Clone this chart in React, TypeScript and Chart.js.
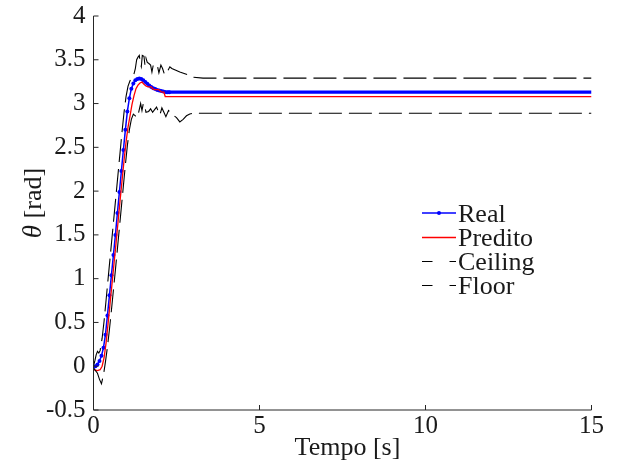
import React, { useEffect, useRef } from "react";
import { Chart, registerables } from "chart.js";

Chart.register(...registerables);

// ---------------- data ----------------
const realTime = [0, 0.06, 0.12, 0.18, 0.24, 0.30, 0.36, 0.42, 0.48, 0.54, 0.60, 0.66, 0.72, 0.78, 0.84, 0.90, 0.96, 1.02, 1.08, 1.14, 1.20, 1.26, 1.32, 1.38, 1.44, 1.50, 1.56, 1.62, 1.68, 1.74, 1.80, 1.86, 1.92, 1.98, 2.04, 2.10, 2.16, 2.22, 2.28, 3, 5, 7.5, 10, 12.5, 15];
const realTheta = [-0.01, 0.0, 0.02, 0.06, 0.12, 0.21, 0.36, 0.58, 0.81, 1.04, 1.27, 1.50, 1.75, 1.99, 2.23, 2.47, 2.70, 2.91, 3.06, 3.17, 3.23, 3.265, 3.28, 3.285, 3.28, 3.265, 3.245, 3.225, 3.205, 3.19, 3.175, 3.165, 3.155, 3.148, 3.142, 3.137, 3.133, 3.13, 3.13, 3.13, 3.13, 3.13, 3.13, 3.13, 3.13];

const predTime = [0, 0.12, 0.20, 0.26, 0.32, 0.38, 0.44, 0.50, 0.56, 0.62, 0.68, 0.74, 0.80, 0.86, 0.92, 0.98, 1.04, 1.10, 1.16, 1.22, 1.28, 1.34, 1.40, 1.46, 1.52, 1.58, 1.64, 1.74, 1.78, 1.84, 1.96, 2.02, 2.06, 2.12, 2.16, 15];
const predTheta = [-0.04, -0.05, -0.04, 0.0, 0.10, 0.27, 0.49, 0.72, 0.95, 1.18, 1.41, 1.65, 1.89, 2.12, 2.35, 2.56, 2.73, 2.86, 2.99, 3.09, 3.17, 3.21, 3.235, 3.245, 3.22, 3.20, 3.19, 3.19, 3.17, 3.16, 3.16, 3.14, 3.13, 3.13, 3.08, 3.08];

const ceilTime = [0, 0.04, 0.08, 0.12, 0.16, 0.20, 0.26, 0.32, 0.38, 0.44, 0.50, 0.56, 0.62, 0.68, 0.74, 0.80, 0.86, 0.92, 0.98, 1.04, 1.10, 1.16, 1.22, 1.26, 1.30, 1.34, 1.38, 1.41, 1.44, 1.47, 1.52, 1.55, 1.58, 1.62, 1.66, 1.72, 1.76, 1.80, 1.86, 1.92, 1.97, 2.03, 2.08, 2.14, 2.22, 2.30, 2.36, 2.60, 2.90, 3.00, 3.30, 15];
const ceilTheta = [0.0, 0.06, 0.13, 0.17, 0.15, 0.18, 0.32, 0.52, 0.76, 1.00, 1.24, 1.48, 1.72, 1.96, 2.20, 2.44, 2.68, 2.90, 3.08, 3.20, 3.26, 3.30, 3.34, 3.40, 3.50, 3.53, 3.55, 3.46, 3.42, 3.55, 3.54, 3.44, 3.52, 3.47, 3.46, 3.44, 3.36, 3.44, 3.43, 3.44, 3.35, 3.44, 3.40, 3.33, 3.36, 3.42, 3.40, 3.36, 3.32, 3.30, 3.29, 3.29];

const floorTime = [0, 0.06, 0.12, 0.18, 0.24, 0.30, 0.36, 0.42, 0.48, 0.54, 0.60, 0.66, 0.72, 0.78, 0.84, 0.90, 0.96, 1.02, 1.08, 1.14, 1.20, 1.26, 1.32, 1.36, 1.42, 1.46, 1.50, 1.54, 1.58, 1.66, 1.72, 1.78, 1.84, 1.90, 1.96, 2.00, 2.06, 2.12, 2.18, 2.26, 2.36, 2.50, 2.60, 2.70, 2.80, 2.90, 3.00, 15];
const floorTheta = [-0.02, -0.05, -0.08, -0.15, -0.20, -0.10, 0.05, 0.22, 0.42, 0.64, 0.87, 1.10, 1.34, 1.58, 1.82, 2.06, 2.30, 2.52, 2.70, 2.82, 2.88, 2.86, 2.84, 2.90, 3.00, 2.92, 3.00, 2.98, 2.90, 2.91, 2.94, 2.90, 2.93, 2.96, 2.90, 2.87, 2.95, 2.90, 2.85, 2.92, 2.88, 2.84, 2.79, 2.82, 2.86, 2.88, 2.89, 2.89];

const xTicks = [0, 5, 10, 15];
const xTickLabels = ["0", "5", "10", "15"];
const yTicks = [-0.5, 0, 0.5, 1, 1.5, 2, 2.5, 3, 3.5, 4];
const yTickLabels = ["-0.5", "0", "0.5", "1", "1.5", "2", "2.5", "3", "3.5", "4"];
const seriesNames = ["Real", "Predito", "Ceiling", "Floor"];
const xTitle = "Tempo [s]";
const yTitleSymbol = "θ";
const yTitleUnit = " [rad]";

// ---------------- style ----------------
const FONT_FAMILY = "'Liberation Serif', 'Times New Roman', serif";
const TICK_FONT = 25;
const TITLE_FONT = 26;
const LEGEND_FONT = 26;
const TEXT_COLOR = "#1a1a1a";
const AXIS_COLOR = "#262626";

const pts = (xs: number[], ys: number[]) => xs.map((x, i) => ({ x, y: ys[i] }));

const decorPlugin = {
  id: "decor",
  afterDatasetsDraw(chart: any) {
    const { ctx, chartArea } = chart;
    const xs = chart.scales.x;
    const ys = chart.scales.y;
    const { left, right, top, bottom } = chartArea;
    ctx.save();
    // axes
    ctx.strokeStyle = AXIS_COLOR;
    ctx.lineWidth = 1;
    ctx.setLineDash([]);
    ctx.beginPath();
    ctx.moveTo(left, top);
    ctx.lineTo(left, bottom);
    ctx.moveTo(left, bottom);
    ctx.lineTo(right, bottom);
    // ticks (inward)
    yTicks.forEach((v) => {
      const y = ys.getPixelForValue(v);
      ctx.moveTo(left, y);
      ctx.lineTo(left + 5, y);
    });
    xTicks.forEach((v) => {
      const x = xs.getPixelForValue(v);
      ctx.moveTo(x, bottom);
      ctx.lineTo(x, bottom - 5);
    });
    ctx.stroke();

    // x title
    ctx.fillStyle = TEXT_COLOR;
    ctx.font = `${TITLE_FONT}px ${FONT_FAMILY}`;
    ctx.textAlign = "center";
    ctx.textBaseline = "alphabetic";
    ctx.fillText(xTitle, (left + right) / 2 + 5, 455);

    // y title with italic theta
    ctx.save();
    ctx.translate(41, 203);
    ctx.rotate(-Math.PI / 2);
    ctx.textAlign = "left";
    ctx.font = `italic ${TITLE_FONT + 1}px ${FONT_FAMILY}`;
    const w1 = ctx.measureText(yTitleSymbol).width;
    ctx.font = `${TITLE_FONT}px ${FONT_FAMILY}`;
    const w2 = ctx.measureText(yTitleUnit).width;
    const start = -(w1 + w2) / 2;
    ctx.font = `italic ${TITLE_FONT + 1}px ${FONT_FAMILY}`;
    ctx.fillText(yTitleSymbol, start, 0);
    ctx.font = `${TITLE_FONT}px ${FONT_FAMILY}`;
    ctx.fillText(yTitleUnit, start + w1, 0);
    ctx.restore();

    // legend
    const lx0 = 422;
    const lx1 = 456;
    const ly = [213, 237.5, 261.5, 285.5];
    const colors = ["#0000ff", "#ff0000", "#000000", "#000000"];
    seriesNames.forEach((name, i) => {
      ctx.save();
      ctx.beginPath();
      ctx.strokeStyle = colors[i];
      ctx.lineWidth = i === 1 ? 1.5 : i === 0 ? 1.3 : 1;
      ctx.setLineDash(i >= 2 ? [10.5, 17] : []);
      ctx.moveTo(lx0, ly[i]);
      ctx.lineTo(lx1, ly[i]);
      ctx.stroke();
      ctx.restore();
      if (i === 0) {
        ctx.beginPath();
        ctx.fillStyle = colors[0];
        ctx.arc((lx0 + lx1) / 2, ly[i], 2, 0, Math.PI * 2);
        ctx.fill();
      }
      ctx.fillStyle = TEXT_COLOR;
      ctx.font = `${LEGEND_FONT}px ${FONT_FAMILY}`;
      ctx.textAlign = "left";
      ctx.textBaseline = "alphabetic";
      ctx.fillText(name, 458, ly[i] + 8.5);
    });
    ctx.restore();
  },
};

export default function App() {
  const canvasRef = useRef<HTMLCanvasElement | null>(null);

  useEffect(() => {
    if (!canvasRef.current) return;
    const chart = new Chart(canvasRef.current, {
      type: "line",
      data: {
        datasets: [
          {
            label: seriesNames[0],
            data: pts(realTime, realTheta),
            borderColor: "#0000ff",
            backgroundColor: "#0000ff",
            borderWidth: 1.5,
            pointRadius: (c: any) => (c.parsed && c.parsed.x > 2.3 ? 0 : 2),
            pointBorderWidth: 0,
            pointBackgroundColor: "#0000ff",
            segment: {
              borderWidth: (c: any) => (c.p0.parsed.x >= 2.2 ? 3.4 : undefined),
            },
            tension: 0,
            order: 4,
          } as any,
          {
            label: seriesNames[1],
            data: pts(predTime, predTheta),
            borderColor: "#ff0000",
            borderWidth: 1.3,
            pointRadius: 0,
            tension: 0,
            order: 3,
          },
          {
            label: seriesNames[2],
            data: pts(ceilTime, ceilTheta),
            borderColor: "#000000",
            borderWidth: 1.1,
            borderDash: [23, 7],
            pointRadius: 0,
            tension: 0,
            order: 2,
          },
          {
            label: seriesNames[3],
            data: pts(floorTime, floorTheta),
            borderColor: "#000000",
            borderWidth: 1.1,
            borderDash: [23, 7],
            pointRadius: 0,
            tension: 0,
            order: 1,
          },
        ],
      },
      options: {
        responsive: false,
        maintainAspectRatio: false,
        devicePixelRatio: 1,
        animation: false,
        events: [],
        layout: { padding: { top: 16, right: 30.5, left: 0, bottom: 0 } },
        plugins: { legend: { display: false }, tooltip: { enabled: false } },
        scales: {
          x: {
            type: "linear",
            min: 0,
            max: 15,
            grid: { display: false, drawTicks: false },
            border: { display: false },
            afterBuildTicks: (s: any) => {
              s.ticks = xTicks.map((v) => ({ value: v }));
            },
            afterFit: (s: any) => {
              s.height = 55;
              s.paddingLeft = 0;
              s.paddingRight = 0;
              s.paddingTop = 0;
              s.paddingBottom = 0;
            },
            ticks: {
              autoSkip: false,
              maxRotation: 0,
              padding: 1,
              color: TEXT_COLOR,
              font: { family: FONT_FAMILY, size: TICK_FONT },
              callback: (_v: any, i: number) => xTickLabels[i],
            },
          },
          y: {
            type: "linear",
            min: -0.5,
            max: 4,
            grid: { display: false, drawTicks: false },
            border: { display: false },
            afterBuildTicks: (s: any) => {
              s.ticks = yTicks.map((v) => ({ value: v }));
            },
            afterFit: (s: any) => {
              s.width = 93.5;
              s.paddingLeft = 0;
              s.paddingRight = 0;
              s.paddingTop = 0;
              s.paddingBottom = 0;
            },
            ticks: {
              autoSkip: false,
              padding: 8,
              color: TEXT_COLOR,
              font: { family: FONT_FAMILY, size: TICK_FONT },
              callback: (_v: any, i: number) => yTickLabels[i],
            },
          },
        },
      } as any,
      plugins: [decorPlugin],
    });
    return () => chart.destroy();
  }, []);

  return (
    <div style={{ position: "fixed", left: 0, top: 0, width: 622, height: 465, background: "#ffffff" }}>
      <canvas ref={canvasRef} width={622} height={465} style={{ display: "block", width: 622, height: 465 }} />
    </div>
  );
}
